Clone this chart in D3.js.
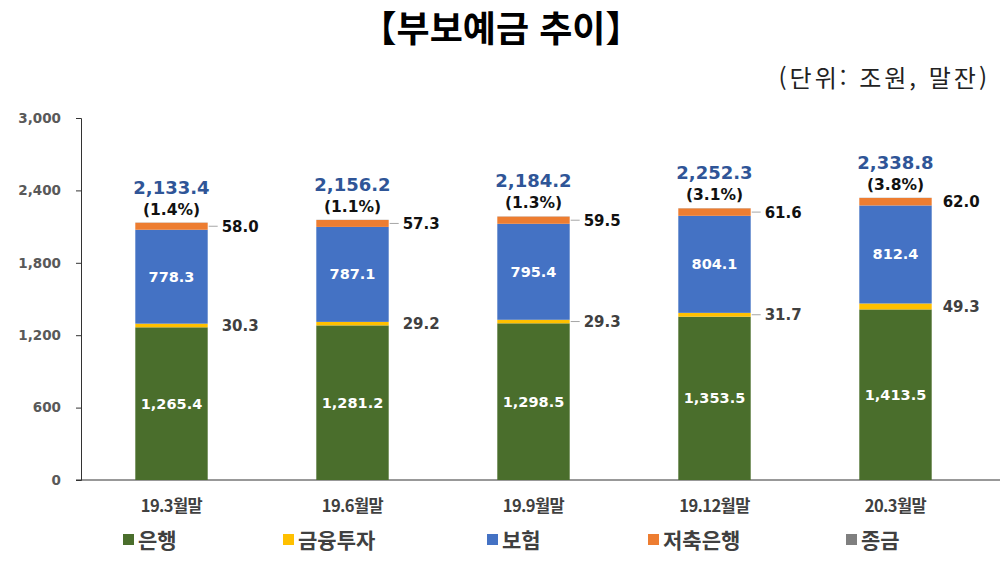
<!DOCTYPE html>
<html lang="ko">
<head>
<meta charset="UTF-8">
<title>부보예금 추이</title>
<style>
body { margin: 0; background: #fff; }
svg { display: block; }
.num { font-family: "DejaVu Sans", Verdana, sans-serif; font-weight: bold; }
.kr { font-family: "Noto Sans CJK KR", sans-serif; }
</style>
</head>
<body>
<svg id="chart" width="1000" height="566"></svg>
<script src="https://d3js.org/d3.v7.min.js"></script>
<script>
// 데이터 (조원, 말잔)
const categories = ["19.3월말", "19.6월말", "19.9월말", "19.12월말", "20.3월말"];
const banks      = [1265.4, 1281.2, 1298.5, 1353.5, 1413.5];
const invest     = [30.3, 29.2, 29.3, 31.7, 49.3];
const insurance  = [778.3, 787.1, 795.4, 804.1, 812.4];
const savings    = [58.0, 57.3, 59.5, 61.6, 62.0];
const merchant   = [1.4, 1.4, 1.5, 1.4, 1.6];
const totals     = [2133.4, 2156.2, 2184.2, 2252.3, 2338.8];
const growth     = ["(1.4%)", "(1.1%)", "(1.3%)", "(3.1%)", "(3.8%)"];
const yTicks     = [0, 600, 1200, 1800, 2400, 3000];
// 바깥 라벨 지시선 여부
const leaderSavings = [true, true, true, true, false];
const leaderInvest  = [false, false, true, true, false];

const seriesNames  = ["은행", "금융투자", "보험", "저축은행", "종금"];
const seriesColors = ["#4A6E2C", "#FFC000", "#4472C4", "#ED7D31", "#7F7F7F"];

const rows = categories.map((c, i) => ({
    cat: c,
    "은행": banks[i],
    "금융투자": invest[i],
    "보험": insurance[i],
    "저축은행": savings[i],
    "종금": merchant[i]
}));

const svg = d3.select("#chart");
const fmt = d3.format(",.1f");

const x = d3.scaleBand().domain(categories).range([81, 986]).paddingInner(0.6).paddingOuter(0.3);
const y = d3.scaleLinear().domain([0, 3000]).range([480, 118]);

const stack = d3.stack().keys(seriesNames)(rows);

// 제목
svg.append("text")
    .attr("class", "kr")
    .attr("x", 501).attr("y", 42)
    .attr("text-anchor", "middle")
    .attr("font-size", 36).attr("font-weight", "bold")
    .attr("fill", "#000")
    .text("【부보예금 추이】");

svg.append("text")
    .attr("class", "kr")
    .attr("x", 990).attr("y", 87)
    .attr("text-anchor", "end")
    .attr("font-size", 24)
    .attr("letter-spacing", 3)
    .attr("fill", "#222")
    .text("(단위: 조원, 말잔)");

// 축
const yAxis = svg.append("g")
    .attr("transform", "translate(81,0)")
    .call(d3.axisLeft(y).tickValues(yTicks).tickSize(5).tickPadding(15).tickFormat(d3.format(",")));
yAxis.select(".domain").attr("stroke", "#333");
yAxis.selectAll(".tick line").attr("stroke", "#333");
yAxis.selectAll("text")
    .attr("class", "num")
    .attr("font-size", 13.5)
    .attr("fill", "#595959");

svg.append("line")
    .attr("x1", 76).attr("x2", 1000)
    .attr("y1", y(0)).attr("y2", y(0))
    .attr("stroke", "#333");

// 막대
svg.append("g")
    .selectAll("g")
    .data(stack)
    .join("g")
    .attr("fill", (d, i) => seriesColors[i])
    .selectAll("rect")
    .data(d => d)
    .join("rect")
    .attr("x", d => x(d.data.cat))
    .attr("width", x.bandwidth())
    .attr("y", d => y(d[1]))
    .attr("height", d => y(d[0]) - y(d[1]));

const bw = x.bandwidth();

// 내부 라벨 (은행, 보험)
[0, 2].forEach(k => {
    svg.append("g")
        .selectAll("text")
        .data(stack[k])
        .join("text")
        .attr("class", "num")
        .attr("x", d => x(d.data.cat) + bw / 2)
        .attr("y", d => (y(d[0]) + y(d[1])) / 2 + 5)
        .attr("text-anchor", "middle")
        .attr("font-size", 14.5)
        .attr("fill", "#fff")
        .text(d => fmt(d[1] - d[0]));
});

// 바깥 라벨 (금융투자, 저축은행)
function sideLabels(k, color, leaders) {
    const g = svg.append("g");
    stack[k].forEach((d, i) => {
        const cy = (y(d[0]) + y(d[1])) / 2;
        const x0 = x(d.data.cat) + bw;
        if (leaders[i]) {
            g.append("line")
                .attr("x1", x0 + 1).attr("x2", x0 + 10)
                .attr("y1", cy).attr("y2", cy)
                .attr("stroke", "#A6A6A6").attr("stroke-width", 1);
        }
        g.append("text")
            .attr("class", "num")
            .attr("x", x0 + (i === 4 ? 11 : 14))
            .attr("y", cy + 5.5)
            .attr("font-size", 15)
            .attr("fill", color)
            .text(fmt(d[1] - d[0]));
    });
}
sideLabels(1, "#404040", leaderInvest);
sideLabels(3, "#111", leaderSavings);

// 합계 및 증가율
svg.append("g")
    .selectAll("text")
    .data(categories)
    .join("text")
    .attr("class", "num")
    .attr("x", d => x(d) + bw / 2)
    .attr("y", (d, i) => y(totals[i]) - 29)
    .attr("text-anchor", "middle")
    .attr("font-size", 18)
    .attr("fill", "#2F5597")
    .text((d, i) => fmt(totals[i]));

svg.append("g")
    .selectAll("text")
    .data(categories)
    .join("text")
    .attr("class", "num")
    .attr("x", d => x(d) + bw / 2)
    .attr("y", (d, i) => y(totals[i]) - 8)
    .attr("text-anchor", "middle")
    .attr("font-size", 15.5)
    .attr("fill", "#111")
    .text((d, i) => growth[i]);

// 범주 라벨
svg.append("g")
    .selectAll("text")
    .data(categories)
    .join("text")
    .attr("class", "kr")
    .attr("x", d => x(d) + bw / 2)
    .attr("y", 512)
    .attr("text-anchor", "middle")
    .attr("font-size", 16.5)
    .attr("font-weight", "bold")
    .attr("letter-spacing", -0.6)
    .attr("fill", "#404040")
    .text(d => d);

// 범례
const legendX = [123, 283, 487, 648, 846];
const legend = svg.append("g")
    .selectAll("g")
    .data(seriesNames)
    .join("g")
    .attr("transform", (d, i) => `translate(${legendX[i]},540)`);
legend.append("rect")
    .attr("x", 0).attr("y", -6)
    .attr("width", 11).attr("height", 11)
    .attr("fill", (d, i) => seriesColors[i]);
legend.append("text")
    .attr("class", "kr")
    .attr("x", 15).attr("y", 8)
    .attr("font-size", 21)
    .attr("font-weight", "bold")
    .attr("fill", "#404040")
    .text(d => d);
</script>
</body>
</html>
